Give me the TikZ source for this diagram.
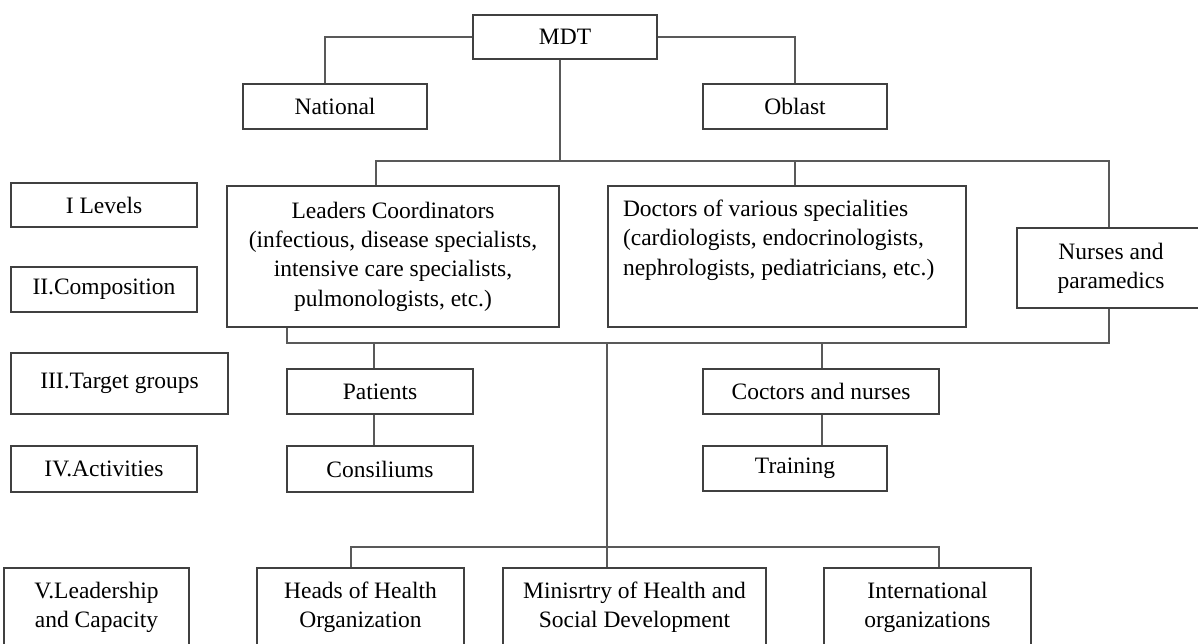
\documentclass[tikz,border=0pt]{standalone}
\usepackage{fontspec}
\setmainfont{Liberation Serif}
\begin{document}
\begin{tikzpicture}[x=1pt,y=-1pt,
  box/.style={draw=black!75, line width=1.1pt, inner sep=0pt, align=center, fill=white,
    font=\fontsize{23.5}{29.3}\selectfont},
  conn/.style={draw=black!65, line width=1.3pt}]
\path[use as bounding box, clip] (0,0) rectangle (1198,643);
% top level
\node[box, minimum width=184pt, minimum height=44pt] (MDT) at (565,37) {MDT};
\node[box, minimum width=184pt, minimum height=45pt] (National) at (335,106.5) {National};
\node[box, minimum width=184pt, minimum height=45pt] (Oblast) at (795,106.5) {Oblast};
% left column
\node[box, minimum width=186pt, minimum height=44pt] (L1) at (104,205) {I Levels};
\node[box, minimum width=186pt, minimum height=45pt] (L2) at (104,289.5) {II.Composition};
\node[box, minimum width=217pt, minimum height=61pt] (L3) at (119.5,383.5) {III.Target groups};
\node[box, minimum width=186pt, minimum height=46pt] (L4) at (104,469) {IV.Activities};
\node[box, minimum width=185pt, minimum height=79pt] (L5) at (96.5,607.5) {V.Leadership\\and Capacity};
% composition
\node[box, minimum width=332pt, minimum height=141pt] (Lead) at (393,256.5)
  {Leaders Coordinators\\(infectious, disease specialists,\\intensive care specialists,\\pulmonologists, etc.)};
\node[box, minimum width=358pt, minimum height=141pt, align=left] (Doc) at (787,256.5)
  {Doctors of various specialities\\(cardiologists, endocrinologists,\\nephrologists, pediatricians, etc.)\\\rule{328pt}{0pt}\strut};
\node[box, minimum width=188pt, minimum height=80pt] (Nurse) at (1111,268) {Nurses and\\paramedics};
% target groups / activities
\node[box, minimum width=186pt, minimum height=45pt] (Pat) at (380,391.5) {Patients};
\node[box, minimum width=186pt, minimum height=46pt] (Cons) at (380,469) {Consiliums};
\node[box, minimum width=236pt, minimum height=45pt] (Coc) at (821,391.5) {Coctors and nurses};
\node[box, minimum width=184pt, minimum height=45pt] (Train) at (795,468.5) {Training};
% leadership
\node[box, minimum width=207pt, minimum height=79pt] (Heads) at (360.5,607.5) {Heads of Health\\Organization};
\node[box, minimum width=263pt, minimum height=79pt] (Min) at (634.5,607.5) {Minisrtry of Health and\\Social Development};
\node[box, minimum width=207pt, minimum height=79pt] (Intl) at (927.5,607.5) {International\\organizations};
% junction coordinates
\coordinate (busA) at (560,161);
\coordinate (busB) at (607,343);
\coordinate (busC) at (607,547);
% connectors
\draw[conn] (MDT.west) -| ([xshift=-10pt]National.north);
\draw[conn] (MDT.east) -| (Oblast.north);
\draw[conn] ([xshift=-5pt]MDT.south) -- (busA);
\draw[conn] ([xshift=-17pt]Lead.north) |- (busA);
\draw[conn] (busA) -| ([xshift=-2pt]Nurse.north);
\draw[conn] ([xshift=8pt]Doc.north) -- ([xshift=8pt]Doc.north |- busA);
\draw[conn] ([xshift=-106pt]Lead.south) |- (busB);
\draw[conn] (busB) -| ([xshift=-2pt]Nurse.south);
\draw[conn] ([xshift=-6pt]Pat.north) -- ([xshift=-6pt]Pat.north |- busB);
\draw[conn] ([xshift=-6pt]Pat.south) -- ([xshift=-6pt]Cons.north);
\draw[conn] ([xshift=1pt]Coc.north) -- ([xshift=1pt]Coc.north |- busB);
\draw[conn] ([xshift=27pt]Train.north) -- ([xshift=1pt]Coc.south);
\draw[conn] (busB) -- ([xshift=-27.5pt]Min.north);
\draw[conn] ([xshift=-9.5pt]Heads.north) |- (busC);
\draw[conn] (busC) -| ([xshift=11.5pt]Intl.north);
\end{tikzpicture}
\end{document}
